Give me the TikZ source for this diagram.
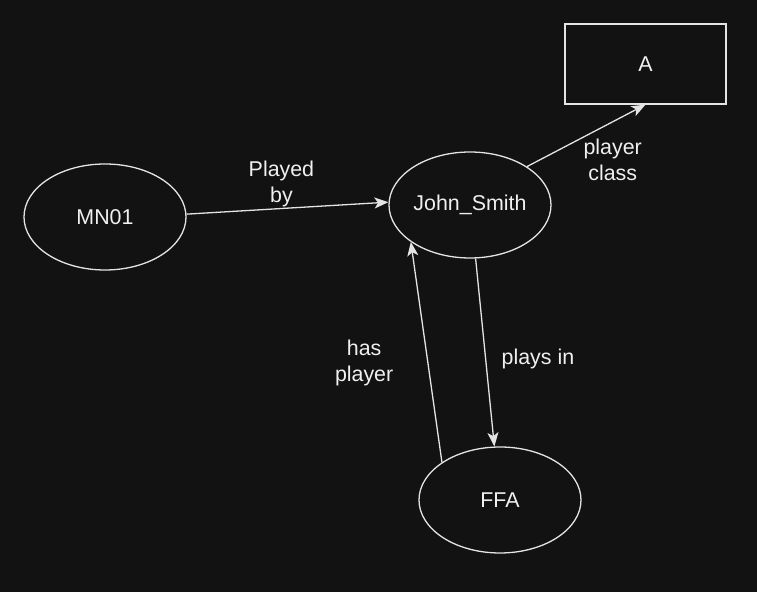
\documentclass[tikz,border=0pt]{standalone}
\usepackage{fontspec}
\setmainfont{Liberation Sans}
\usetikzlibrary{arrows.meta,shapes.geometric}
\definecolor{bgdark}{HTML}{121212}
\definecolor{linegray}{HTML}{E4E4E4}
\definecolor{textgray}{HTML}{F0F0F0}

\begin{document}
\begin{tikzpicture}[
    x=0.5pt, y=-0.5pt,
    >={Stealth[length=7pt, width=5.5pt, inset=1.8pt]},
    ent/.style={draw=linegray, line width=0.65pt, ellipse, minimum width=81pt, minimum height=53pt, inner sep=0pt, text=textgray},
    cls/.style={draw=linegray, line width=0.65pt, rectangle, minimum width=80.5pt, minimum height=40pt, inner sep=0pt, text=textgray},
    arr/.style={->, draw=linegray, line width=0.65pt},
    elabel/.style={text=textgray, align=center, inner sep=0pt}
]
    \fill[bgdark] (0,0) rectangle (757,592);
    \useasboundingbox (0,0) rectangle (757,592);
    \fontsize{10.7}{13}\selectfont
    \node[ent] (mn) at (105,217) {MN01};
    \node[ent] (js) at (470,205) {John\_Smith};
    \node[ent] (ffa) at (500,500) {FFA};
    \node[cls] (clsA) at (645.5,64) {A};
    \draw[arr] (mn.2) -- node[elabel, pos=0.47, above=0.5pt] {Played\\by} (js.178);
    \draw[arr] (js.34) -- node[elabel, pos=0.5, xshift=13.25pt, yshift=-12.25pt] {player\\class} (clsA.south);
    \draw[arr] (js.-84) -- node[elabel, pos=0.5, right=8pt, yshift=-3pt] {plays in} (ffa.96);
    \draw[arr] (ffa.147) -- node[elabel, pos=0.45, left=17pt] {has\\player} (js.-148);
\end{tikzpicture}
\end{document}
